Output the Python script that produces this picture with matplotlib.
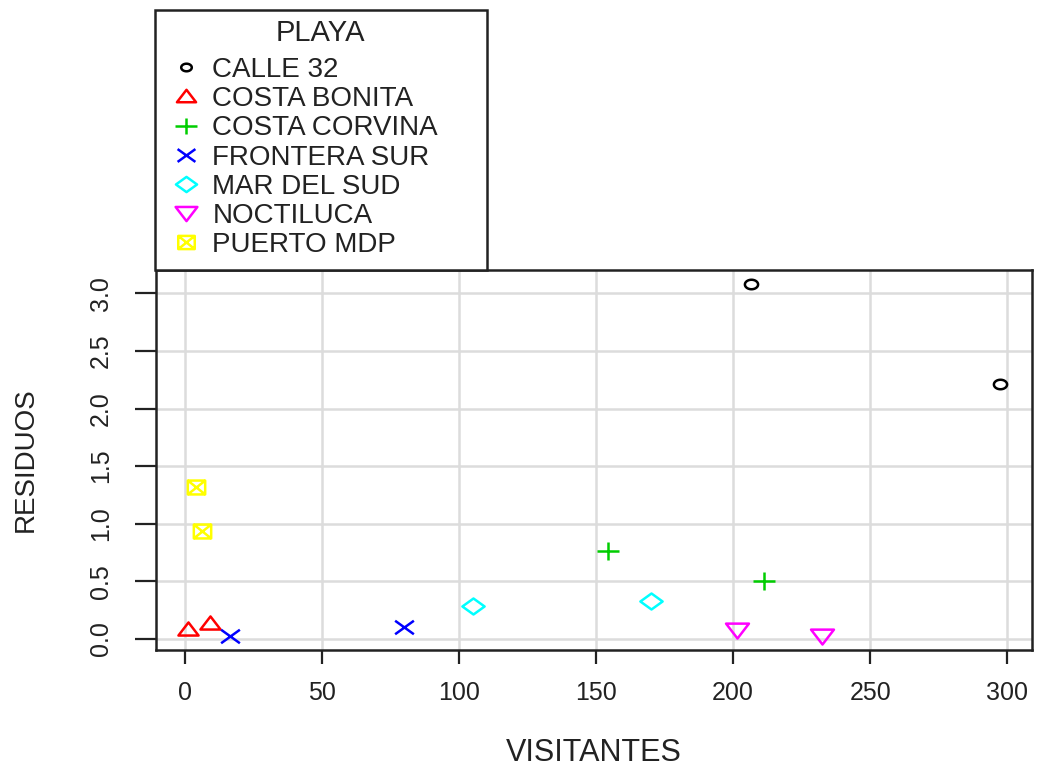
import matplotlib
matplotlib.use("Agg")
import matplotlib.pyplot as plt
from matplotlib.path import Path
from matplotlib.lines import Line2D
from matplotlib.patches import Rectangle
import numpy as np

plt.rcParams['font.family'] = ['Liberation Sans', 'DejaVu Sans']

# ---- data ----
categories = ["CALLE 32", "COSTA BONITA", "COSTA CORVINA", "FRONTERA SUR",
              "MAR DEL SUD", "NOCTILUCA", "PUERTO MDP"]
x_calle32 = [206.7, 297.2]
y_calle32 = [3.08, 2.21]
x_costa_bonita = [1.3, 9.3]
y_costa_bonita = [0.086, 0.138]
x_costa_corvina = [154.3, 211.1]
y_costa_corvina = [0.767, 0.50]
x_frontera_sur = [16.6, 80.0]
y_frontera_sur = [0.026, 0.103]
x_mar_del_sud = [105.1, 169.9]
y_mar_del_sud = [0.284, 0.328]
x_noctiluca = [201.3, 232.3]
y_noctiluca = [0.078, 0.026]
x_puerto_mdp = [4.2, 6.4]
y_puerto_mdp = [1.32, 0.94]

xs = [x_calle32, x_costa_bonita, x_costa_corvina, x_frontera_sur,
      x_mar_del_sud, x_noctiluca, x_puerto_mdp]
ys = [y_calle32, y_costa_bonita, y_costa_corvina, y_frontera_sur,
      y_mar_del_sud, y_noctiluca, y_puerto_mdp]

x_ticks = [0, 50, 100, 150, 200, 250, 300]
y_ticks = [0.0, 0.5, 1.0, 1.5, 2.0, 2.5, 3.0]
y_ticklabels = ["0.0", "0.5", "1.0", "1.5", "2.0", "2.5", "3.0"]

colors = ["#000000", "#FF0000", "#00CD00", "#0000FF", "#00FFFF", "#FF00FF", "#FFFF00"]

# ---- marker shapes (R pch 1..7, slightly flattened as in the reference) ----
def closed(pts):
    verts = list(pts) + [pts[0]]
    codes = [Path.MOVETO] + [Path.LINETO] * (len(pts) - 1) + [Path.CLOSEPOLY]
    return Path(verts, codes)

def segs(seg_list, extra=None):
    verts, codes = [], []
    for (a, b) in seg_list:
        verts += [a, b]
        codes += [Path.MOVETO, Path.LINETO]
    if extra is not None:
        verts += list(extra.vertices)
        codes += list(extra.codes)
    return Path(verts, codes)

t = np.linspace(0, 2 * np.pi, 40, endpoint=False)
m_circle = closed([(np.cos(a), 0.72 * np.sin(a)) for a in t])
m_tri = closed([(-1, -0.6), (1, -0.6), (0, 0.7)])
m_plus = segs([((-1, 0), (1, 0)), ((0, -0.8), (0, 0.8))])
m_x = segs([((-1, -0.72), (1, 0.72)), ((-1, 0.72), (1, -0.72))])
m_diam = closed([(-1, 0), (0, 0.72), (1, 0), (0, -0.72)])
m_dtri = closed([(-1, 0.6), (1, 0.6), (0, -0.7)])
sq = closed([(-1, -0.8), (1, -0.8), (1, 0.8), (-1, 0.8)])
m_sqx = segs([((-1, -0.8), (1, 0.8)), ((-1, 0.8), (1, -0.8))], extra=sq)

markers = [m_circle, m_tri, m_plus, m_x, m_diam, m_dtri, m_sqx]
msizes = [9.5, 14.5, 16, 13.5, 16, 16.5, 12.5]

fig = plt.figure(figsize=(10.37, 7.67), dpi=100)
ax = fig.add_axes([156 / 1037, 1 - 650 / 767, (1032 - 156) / 1037, (650 - 270) / 767])

handles = []
for i, cat in enumerate(categories):
    ax.plot(xs[i], ys[i], linestyle='none', marker=markers[i], markersize=msizes[i],
            markerfacecolor='none', markeredgecolor=colors[i], markeredgewidth=1.8,
            zorder=3)
    handles.append(Line2D([], [], linestyle='none', marker=markers[i],
                          markersize=msizes[i] * (0.8 if i == 0 else 0.95),
                          markerfacecolor='none', markeredgecolor=colors[i],
                          markeredgewidth=1.8, label=cat))

# R-style 4% padding
allx = np.concatenate([np.array(v) for v in xs])
ally = np.concatenate([np.array(v) for v in ys])
rx = allx.max() - allx.min()
ry = ally.max() - ally.min()
ax.set_xlim(allx.min() - 0.04 * rx, allx.max() + 0.04 * rx)
ax.set_ylim(ally.min() - 0.04 * ry, ally.max() + 0.04 * ry)

ax.set_xticks(x_ticks)
ax.set_yticks(y_ticks)
ax.set_yticklabels(y_ticklabels, rotation=90, va='center')
ax.grid(True, color='#DCDCDC', linewidth=1.8, zorder=0)
ax.set_axisbelow(True)
for s in ax.spines.values():
    s.set_linewidth(1.8)
    s.set_color('#222222')
ax.tick_params(axis='x', length=10, width=1.6, pad=12, labelsize=18, colors='#222222')
ax.tick_params(axis='y', length=15, width=1.6, pad=16, labelsize=18, colors='#222222')

ax.set_xlabel("VISITANTES", fontsize=22, labelpad=24, color='#222222')
ax.set_ylabel("RESIDUOS", fontsize=20, labelpad=36, color='#222222')

# legend box (drawn above plot region like R's legend with xpd)
fig.add_artist(Rectangle((155 / 1037, 1 - 270 / 767), (487 - 155) / 1037, (270 - 10) / 767,
                         transform=fig.transFigure, facecolor='white', edgecolor='#222222',
                         linewidth=1.8, zorder=5))
fig.text(320 / 1037, 1 - 33 / 767, "PLAYA", ha='center', va='center', fontsize=21,
         color='#222222', zorder=6)
leg = fig.legend(handles=handles, loc='upper left',
                 bbox_to_anchor=(172 / 1037, 1 - 57 / 767),
                 frameon=False, fontsize=20, labelspacing=0.115, handlelength=1.0,
                 handletextpad=0.45, borderpad=0, borderaxespad=0)
leg.set_zorder(6)
for txt in leg.get_texts():
    txt.set_color('#222222')

fig.savefig("out.png", dpi=100)
